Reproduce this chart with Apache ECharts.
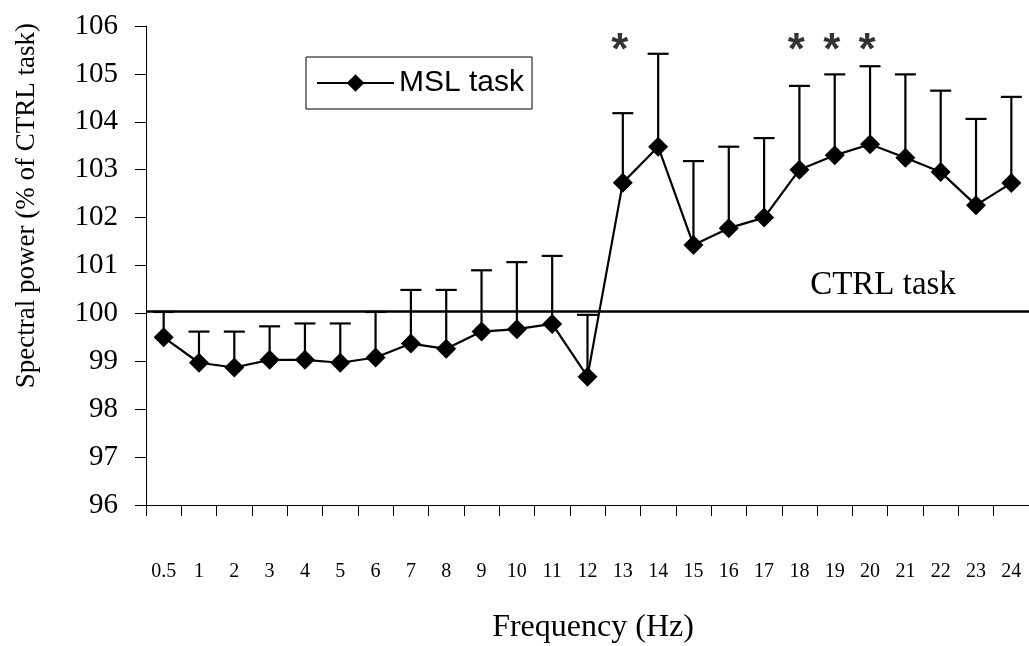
<!DOCTYPE html>
<html>
<head>
<meta charset="utf-8">
<script src="https://cdn.jsdelivr.net/npm/echarts@6/dist/echarts.min.js"></script>
<style>
  html, body { margin: 0; padding: 0; background: #fff; }
  #chart { width: 1029px; height: 646px; }
</style>
</head>
<body>
<div id="chart"></div>
<script>
// frequency bins (Hz)
const categories = ['0.5', '1', '2', '3', '4', '5', '6', '7', '8', '9', '10', '11', '12',
  '13', '14', '15', '16', '17', '18', '19', '20', '21', '22', '23', '24']
// MSL task, % of CTRL task
const mslMean = [99.50, 98.97, 98.87, 99.03, 99.03, 98.97, 99.08, 99.37, 99.26, 99.62, 99.67, 99.78, 98.68,
  102.73, 103.48, 101.43, 101.78, 102.00, 103.00, 103.30, 103.53, 103.25, 102.95, 102.26, 102.72]
// top of error bar (mean + SE)
const mslUpper = [100.03, 99.62, 99.62, 99.73, 99.79, 99.79, 100.03, 100.49, 100.49, 100.90, 101.07, 101.20, 99.97,
  104.18, 105.42, 103.18, 103.48, 103.66, 104.75, 104.99, 105.16, 104.99, 104.65, 104.06, 104.52]
const ctrlLevel = 100.05
// significant bins (*)
const sigCats = ['13', '18', '19', '20']
const sigLevel = 105.62
const yTicks = { min: 96, max: 106, interval: 1 }

const serif = 'Liberation Serif'
const sans = 'Liberation Sans'

const chart = echarts.init(document.getElementById('chart'))

const errData = categories.map((c, i) => [i, mslMean[i], mslUpper[i]])

chart.setOption({
  animation: false,
  backgroundColor: '#fff',
  grid: { left: 146, top: 26, width: 891, bottom: 141, containLabel: false },
  legend: {
    left: 306,
    top: 57,
    padding: [11, 8, 11, 10],
    borderColor: '#000',
    borderWidth: 1,
    itemWidth: 77,
    itemHeight: 22,
    itemGap: 10,
    data: ['MSL task'],
    textStyle: { fontFamily: sans, fontSize: 30, color: '#000', lineHeight: 30 }
  },
  xAxis: {
    type: 'category',
    data: categories,
    boundaryGap: true,
    axisLine: { lineStyle: { color: '#000', width: 1 } },
    axisTick: { show: true, length: 11, lineStyle: { color: '#000' } },
    axisLabel: { fontFamily: serif, fontSize: 20, color: '#000', margin: 57, interval: 0 },
    splitLine: { show: false }
  },
  yAxis: {
    type: 'value',
    min: yTicks.min,
    max: yTicks.max,
    interval: yTicks.interval,
    axisLine: { show: true, lineStyle: { color: '#000', width: 1 } },
    axisTick: { show: true, length: 11, lineStyle: { color: '#000' } },
    axisLabel: { fontFamily: serif, fontSize: 29, color: '#000', margin: 28 },
    splitLine: { show: false }
  },
  graphic: [
    {
      type: 'text',
      left: 13,
      top: 23,
      style: { text: 'Spectral power (% of CTRL task)', font: '27px "Liberation Serif"', fill: '#000' },
      rotation: Math.PI / 2
    },
    {
      type: 'text',
      style: {
        text: 'Frequency (Hz)', x: 593, y: 628, align: 'center', verticalAlign: 'middle',
        font: '32px "Liberation Serif"', fill: '#000'
      }
    },
    {
      type: 'text',
      style: {
        text: 'CTRL task', x: 883, y: 302, align: 'center', verticalAlign: 'bottom',
        font: '33px "Liberation Serif"', fill: '#000'
      }
    }
  ],
  series: [
    {
      name: 'errors',
      type: 'custom',
      z: 2,
      data: errData,
      renderItem: function (params, api) {
        const p0 = api.coord([api.value(0), api.value(1)])
        const p1 = api.coord([api.value(0), api.value(2)])
        const half = 10.5
        return {
          type: 'group',
          children: [
            { type: 'line', shape: { x1: p0[0], y1: p0[1], x2: p1[0], y2: p1[1] }, style: { stroke: '#000', lineWidth: 2.2 } },
            { type: 'line', shape: { x1: p1[0] - half, y1: p1[1], x2: p1[0] + half, y2: p1[1] }, style: { stroke: '#000', lineWidth: 2.2 } }
          ]
        }
      }
    },
    {
      name: 'MSL task',
      type: 'line',
      z: 3,
      data: mslMean,
      symbol: 'diamond',
      symbolSize: 20,
      showAllSymbol: true,
      lineStyle: { color: '#000', width: 2.2 },
      itemStyle: { color: '#000', borderWidth: 0 },
      markLine: {
        silent: true,
        symbol: 'none',
        label: { show: false },
        lineStyle: { color: '#000', width: 2.5, type: 'solid' },
        data: [{ yAxis: ctrlLevel }]
      }
    },
    {
      name: 'sig',
      type: 'scatter',
      symbol: 'circle',
      symbolSize: 2,
      itemStyle: { color: 'rgba(0,0,0,0)' },
      data: sigCats.map(c => [c, sigLevel]),
      label: {
        show: true,
        position: 'inside',
        formatter: '*',
        fontFamily: sans,
        fontWeight: 'bold',
        fontSize: 44,
        color: '#000',
        offset: [-3, 8]
      }
    }
  ]
})
</script>
</body>
</html>
